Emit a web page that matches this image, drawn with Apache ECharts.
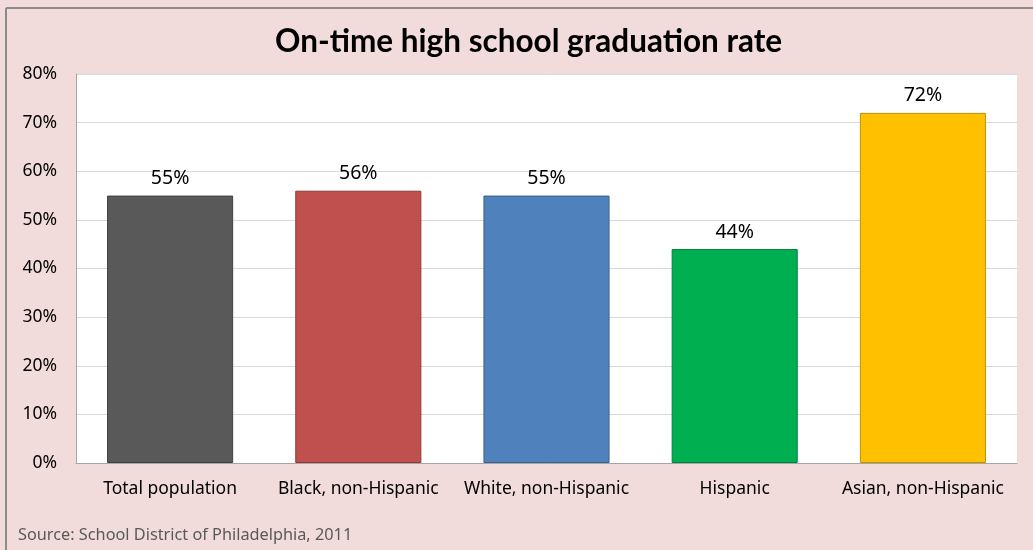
<!DOCTYPE html>
<html><head><meta charset="utf-8">
<script src="https://cdn.jsdelivr.net/npm/echarts@6/dist/echarts.min.js"></script>
<style>html,body{margin:0;padding:0;background:#f2dcdb;}#c{width:1033px;height:550px;}</style>
</head><body><div id="c"></div>
<script>
const categories = ['Total population','Black, non-Hispanic','White, non-Hispanic','Hispanic','Asian, non-Hispanic'];
const values = [55, 56, 55, 44, 72];
const barColors = ['#595959','#c0504d','#4f81bd','#00b050','#ffc000'];
const borderColors = ['#404040','#8c3836','#3a5f8c','#00803f','#bf9000'];
const yTicks = [0,10,20,30,40,50,60,70,80];
const titleText = 'On-time high school graduation rate';
const sourceText = 'Source: School District of Philadelphia, 2011';

const chart = echarts.init(document.getElementById('c'));
const tfont = 'Lato, sans-serif';
const font = '"Noto Sans", sans-serif';
chart.setOption({
  backgroundColor: '#f2dcdb',
  animation: false,
  title: {
    text: titleText, left: 270, top: 21,
    textStyle: {fontFamily: tfont, fontWeight: 'bold', fontSize: 31.5, color: '#000'}
  },
  graphic: [
    {type: 'line', shape: {x1: 6, y1: 8, x2: 1033, y2: 8}, style: {stroke: '#8c8c8c', lineWidth: 2}},
    {type: 'line', shape: {x1: 6, y1: 8, x2: 6, y2: 550}, style: {stroke: '#8c8c8c', lineWidth: 2}},
    {type: 'text', left: 18, top: 527, style: {text: sourceText, fontFamily: '"Noto Sans"', fontSize: 16.3, fill: '#595959'}}
  ],
  grid: {left: 76, right: 16, top: 74, bottom: 87, backgroundColor: '#fff', show: true, borderWidth: 0},
  xAxis: {
    type: 'category', data: categories,
    axisLine: {lineStyle: {color: '#a6a6a6'}},
    axisTick: {show: false},
    axisLabel: {fontFamily: font, fontSize: 17.5, color: '#000', margin: 17, interval: 0}
  },
  yAxis: {
    type: 'value', min: 0, max: 80, interval: 10,
    axisLine: {show: true, lineStyle: {color: '#a6a6a6'}},
    axisTick: {show: false},
    splitLine: {lineStyle: {color: '#d9d9d9'}},
    axisLabel: {fontFamily: font, fontSize: 17.5, color: '#000', margin: 19, formatter: v => v + '%'}
  },
  series: [{
    type: 'bar', barWidth: '67%',
    data: values.map((v, i) => ({value: v, itemStyle: {color: barColors[i], borderColor: borderColors[i], borderWidth: 1}})),
    label: {show: true, position: 'top', distance: 7, fontFamily: font, fontSize: 19.5, color: '#000', formatter: p => p.value + '%'}
  }]
});
</script></body></html>
